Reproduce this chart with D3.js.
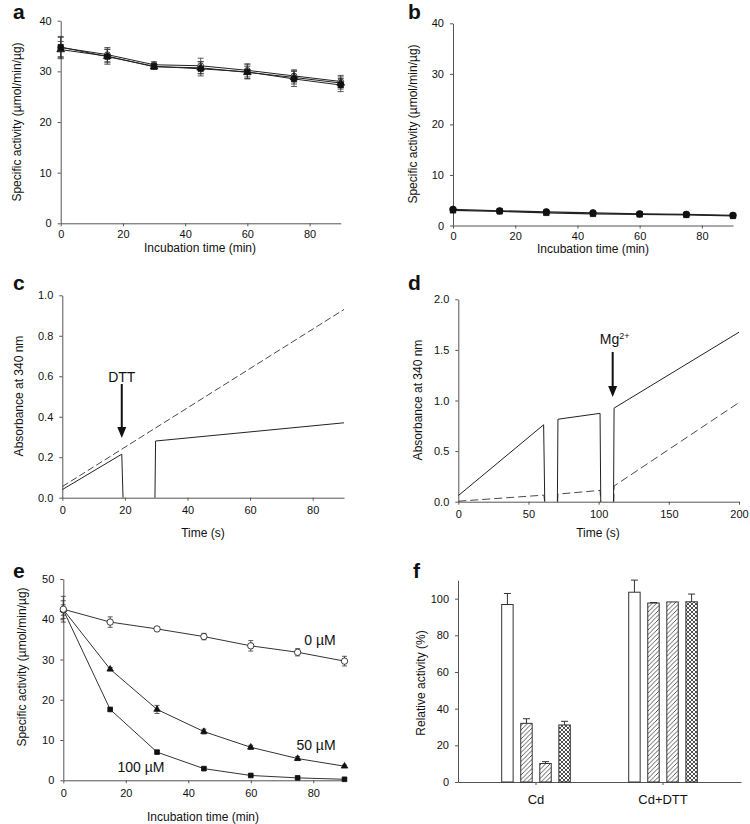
<!DOCTYPE html>
<html>
<head>
<meta charset="utf-8">
<script src="https://cdn.jsdelivr.net/npm/d3@7"></script>
<style>
  body { margin: 0; background: #fff; }
  text { font-family: "Liberation Sans", Arial, sans-serif; fill: #111; }
  .axis .domain, .axis line { stroke: #555; stroke-width: 1; }
  .axis text { font-size: 11px; fill: #111; }
</style>
</head>
<body>
<script>
// ---------- DATA ----------
const incubationTime = [0, 15, 30, 45, 60, 75, 90];

// panel a
const aSquare = [34.8, 32.9, 31.0, 30.5, 29.9, 28.5, 27.3];
const aSquareErr = [1.9, 1.5, 0.6, 1.4, 1.4, 1.5, 1.3];
const aTriangle = [34.3, 33.0, 30.9, 30.7, 29.8, 28.8, 27.7];
const aTriangleErr = [1.6, 1.3, 0.5, 1.2, 1.2, 1.3, 1.2];
const aCircle = [34.7, 33.3, 31.3, 31.1, 30.2, 29.1, 28.0];
const aCircleErr = [2.2, 1.4, 0.6, 1.5, 1.3, 1.2, 1.2];

// panel b
const bCircle = [3.2, 2.9, 2.7, 2.5, 2.3, 2.2, 2.0];
const bSquare = [3.0, 2.8, 2.5, 2.3, 2.2, 2.1, 1.9];
const bErr = [0.2, 0.2, 0.2, 0.2, 0.15, 0.15, 0.15];

// panel c (time s, absorbance); null = gap in trace
const cSolidTime = [0, 19, 19.4, null, 29.6, 29.8, 90];
const cSolidAbs = [0.04, 0.215, 0, null, 0, 0.28, 0.37];
const cDashTime = [0, 90];
const cDashAbs = [0.055, 0.93];
const cArrowTime = 19;

// panel d
const dSolidTime = [0, 60.8, 61.6, null, 70.6, 71, 101, 101.5, null, 110.6, 111, 200];
const dSolidAbs = [0.06, 0.76, 0, null, 0, 0.815, 0.873, 0, null, 0, 0.925, 1.675];
const dDashTime = [0, 61, 61.5, null, 70.8, 71, 101, 101.5, null, 110.8, 111, 200];
const dDashAbs = [0.005, 0.065, 0, null, 0, 0.075, 0.112, 0, null, 0, 0.155, 0.98];
const dArrowTime = 110;

// panel e
const e0uM = [42.5, 39.3, 37.6, 35.7, 33.4, 31.8, 29.6];
const e0uMErr = [3.2, 1.3, 0.4, 0.8, 1.3, 0.9, 1.2];
const e50uM = [42.4, 27.6, 17.6, 12.1, 8.2, 5.4, 3.5];
const e50uMErr = [2.2, 0.4, 1.0, 0.6, 0.5, 0.5, 0.3];
const e100uM = [42.3, 17.6, 7.0, 2.9, 1.2, 0.6, 0.25];
const e100uMErr = [1.3, 0.4, 0.3, 0.3, 0.3, 0.3, 0.2];
const eLabels = ["0 µM", "50 µM", "100 µM"];

// panel f
const fCategories = ["Cd", "Cd+DTT"];
const fCd = [96.8, 32.0, 10.1, 31.1];
const fCdErr = [6.0, 2.5, 1.0, 2.0];
const fCdDTT = [103.5, 97.6, 98.2, 98.3];
const fCdDTTErr = [6.6, 0.3, 0, 4.2];
const fFills = ["white", "hatch", "hatch", "cross"];

const tick90 = [0, 20, 40, 60, 80];

// ---------- DRAW ----------
const svg = d3.select("body").append("svg").attr("width", 750).attr("height", 824);

const defs = svg.append("defs");
const ph = defs.append("pattern").attr("id", "hatch").attr("patternUnits", "userSpaceOnUse")
  .attr("width", 4.5).attr("height", 4.5);
ph.append("rect").attr("width", 4.5).attr("height", 4.5).attr("fill", "#fff");
ph.append("path").attr("d", "M-1,1 l2,-2 M0,4.5 l4.5,-4.5 M3.5,5.5 l2,-2")
  .attr("stroke", "#333").attr("stroke-width", 0.8);
const pc = defs.append("pattern").attr("id", "cross").attr("patternUnits", "userSpaceOnUse")
  .attr("width", 4).attr("height", 4);
pc.append("rect").attr("width", 4).attr("height", 4).attr("fill", "#fff");
pc.append("path").attr("d", "M-1,1 l2,-2 M0,4 l4,-4 M3,5 l2,-2 M-1,3 l2,2 M0,0 l4,4 M3,-1 l2,2")
  .attr("stroke", "#222").attr("stroke-width", 0.8);

function axes(x, y, xt, yt, xf, yf, xpad) {
  svg.append("g").attr("class", "axis").attr("transform", `translate(0,${y.range()[0]})`)
    .call(d3.axisBottom(x).tickValues(xt).tickSize(3).tickPadding(xpad || 6).tickSizeOuter(0).tickFormat(xf));
  svg.append("g").attr("class", "axis").attr("transform", `translate(${x.range()[0]},0)`)
    .call(d3.axisLeft(y).tickValues(yt).tickSize(3).tickPadding(6).tickSizeOuter(0).tickFormat(yf));
}
function yTitle(txt, cx, cy) {
  svg.append("text").attr("transform", `translate(${cx},${cy}) rotate(-90)`)
    .attr("text-anchor", "middle").attr("dominant-baseline", "central")
    .style("font-size", "12px").text(txt);
}
function xTitle(txt, cx, by) {
  svg.append("text").attr("x", cx).attr("y", by).attr("text-anchor", "middle")
    .style("font-size", "12px").text(txt);
}
function panelLabel(t, x, y) {
  svg.append("text").attr("x", x).attr("y", y).style("font-size", "21px")
    .style("font-weight", "bold").text(t);
}
function series(x, y, xs, ys, opts) {
  const g = svg.append("g");
  const line = d3.line().defined((d, i) => d !== null && xs[i] !== null)
    .x((d, i) => x(xs[i])).y(d => y(d));
  g.append("path").datum(ys).attr("d", line).attr("fill", "none")
    .attr("stroke", opts.stroke || "#222").attr("stroke-width", opts.sw || 1)
    .attr("stroke-dasharray", opts.dash || null);
  if (opts.err) {
    const cw = opts.cap || 3;
    ys.forEach((v, i) => {
      const e = opts.err[i]; if (!e) return;
      const cx = x(xs[i]);
      g.append("path").attr("d",
        `M${cx},${y(v - e)}V${y(v + e)}M${cx - cw},${y(v + e)}h${2 * cw}M${cx - cw},${y(v - e)}h${2 * cw}`)
        .attr("stroke", "#333").attr("stroke-width", 0.8).attr("fill", "none");
    });
  }
  if (opts.symbol) {
    ys.forEach((v, i) => {
      g.append("path").attr("transform", `translate(${x(xs[i])},${y(v)})`)
        .attr("d", d3.symbol().type(opts.symbol).size(opts.size || 28)())
        .attr("fill", opts.fill || "#111").attr("stroke", "#111").attr("stroke-width", 0.8);
    });
  }
}

// ----- panel a -----
{
  const x = d3.scaleLinear().domain([0, 90]).range([60.7, 340.7]);
  const y = d3.scaleLinear().domain([0, 40]).range([223.3, 20.7]);
  axes(x, y, tick90, [0, 10, 20, 30, 40], d3.format("d"), d3.format("d"), 4);
  series(x, y, incubationTime, aCircle, { err: aCircleErr, symbol: d3.symbolCircle, fill: "#fff", size: 26 });
  series(x, y, incubationTime, aTriangle, { err: aTriangleErr, symbol: d3.symbolTriangle, size: 26 });
  series(x, y, incubationTime, aSquare, { err: aSquareErr, symbol: d3.symbolSquare, size: 28 });
  yTitle("Specific activity (µmol/min/µg)", 17, 122);
  xTitle("Incubation time (min)", 200, 252);
  panelLabel("a", 13, 19);
}
// ----- panel b -----
{
  const x = d3.scaleLinear().domain([0, 90]).range([453, 733]);
  const y = d3.scaleLinear().domain([0, 40]).range([225.5, 23.3]);
  axes(x, y, tick90, [0, 10, 20, 30, 40], d3.format("d"), d3.format("d"), 4);
  series(x, y, incubationTime, bSquare, { err: bErr, symbol: d3.symbolSquare, size: 30, sw: 1.3 });
  series(x, y, incubationTime, bCircle, { err: bErr, symbol: d3.symbolCircle, size: 34, sw: 1.3 });
  yTitle("Specific activity (µmol/min/µg)", 413, 124);
  xTitle("Incubation time (min)", 593, 253);
  panelLabel("b", 408, 19);
}
// ----- panel c -----
{
  const x = d3.scaleLinear().domain([0, 90]).range([62.3, 344]);
  const y = d3.scaleLinear().domain([0, 1]).range([497.7, 295.3]);
  axes(x, y, tick90, [0, 0.2, 0.4, 0.6, 0.8, 1.0], d3.format("d"), d3.format(".1f"));
  series(x, y, cDashTime, cDashAbs, { dash: "7,3", stroke: "#333", sw: 0.9 });
  series(x, y, cSolidTime, cSolidAbs, { stroke: "#222", sw: 1 });
  const ax = x(cArrowTime);
  svg.append("line").attr("x1", ax).attr("x2", ax).attr("y1", 384).attr("y2", 428)
    .attr("stroke", "#111").attr("stroke-width", 2);
  svg.append("path").attr("d", `M${ax - 4.5},427L${ax + 4.5},427L${ax},438Z`).attr("fill", "#111");
  svg.append("text").attr("x", ax).attr("y", 382).attr("text-anchor", "middle")
    .style("font-size", "14px").text("DTT");
  yTitle("Absorbance at 340 nm", 19, 396);
  xTitle("Time (s)", 203, 537);
  panelLabel("c", 13, 290);
}
// ----- panel d -----
{
  const x = d3.scaleLinear().domain([0, 200]).range([458.3, 739]);
  const y = d3.scaleLinear().domain([0, 2]).range([501.7, 299.3]);
  axes(x, y, [0, 50, 100, 150, 200], [0, 0.5, 1.0, 1.5, 2.0], d3.format("d"), d3.format(".1f"));
  series(x, y, dDashTime, dDashAbs, { dash: "8,4", stroke: "#333", sw: 0.9 });
  series(x, y, dSolidTime, dSolidAbs, { stroke: "#222", sw: 1 });
  const ax = x(dArrowTime);
  svg.append("line").attr("x1", ax).attr("x2", ax).attr("y1", 352).attr("y2", 387)
    .attr("stroke", "#111").attr("stroke-width", 2);
  svg.append("path").attr("d", `M${ax - 4.5},386L${ax + 4.5},386L${ax},397Z`).attr("fill", "#111");
  const t = svg.append("text").attr("x", ax + 2).attr("y", 344).attr("text-anchor", "middle")
    .style("font-size", "14px");
  t.append("tspan").text("Mg");
  t.append("tspan").attr("dy", -5).style("font-size", "9px").text("2+");
  yTitle("Absorbance at 340 nm", 418, 400);
  xTitle("Time (s)", 598, 537);
  panelLabel("d", 408, 290);
}
// ----- panel e -----
{
  const x = d3.scaleLinear().domain([0, 90]).range([63.3, 344.5]);
  const y = d3.scaleLinear().domain([0, 50]).range([780.3, 579]);
  axes(x, y, tick90, [0, 10, 20, 30, 40, 50], d3.format("d"), d3.format("d"));
  series(x, y, incubationTime, e100uM, { err: e100uMErr, symbol: d3.symbolSquare, size: 22, stroke: "#333", cap: 2.5 });
  series(x, y, incubationTime, e50uM, { err: e50uMErr, symbol: d3.symbolTriangle, size: 18, stroke: "#333", cap: 2.5 });
  series(x, y, incubationTime, e0uM, { err: e0uMErr, symbol: d3.symbolCircle, fill: "#fff", size: 32, stroke: "#333", cap: 2.5 });
  const lp = [[320, 645], [316, 750], [141, 772]];
  eLabels.forEach((l, i) => svg.append("text").attr("x", lp[i][0]).attr("y", lp[i][1])
    .attr("text-anchor", "middle").style("font-size", "14px").text(l));
  yTitle("Specific activity (µmol/min/µg)", 22, 667);
  xTitle("Incubation time (min)", 203, 821);
  panelLabel("e", 13, 578);
}
// ----- panel f -----
{
  const x = d3.scaleBand().domain(fCategories).range([458, 741]).paddingInner(0.2).paddingOuter(0.214);
  const xs = d3.scaleBand().domain([0, 1, 2, 3]).range([-34.3, 34.3]).paddingInner(0.4).paddingOuter(0);
  const y = d3.scaleLinear().domain([0, 110]).range([782, 580.3]);
  const gx = svg.append("g").attr("class", "axis").attr("transform", `translate(0,782)`)
    .call(d3.axisBottom(x).tickSize(3).tickSizeOuter(0).tickPadding(10));
  gx.selectAll("text").style("font-size", "13px");
  svg.append("g").attr("class", "axis").attr("transform", `translate(458,0)`)
    .call(d3.axisLeft(y).tickValues([0, 20, 40, 60, 80, 100]).tickSize(3).tickPadding(6).tickSizeOuter(0));
  const groups = [fCd, fCdDTT], errs = [fCdErr, fCdDTTErr];
  groups.forEach((vals, gi) => {
    const c = x(fCategories[gi]) + x.bandwidth() / 2;
    vals.forEach((v, i) => {
      const bx = c + xs(i), bw = xs.bandwidth();
      const e = errs[gi][i];
      if (e > 0) {
        const mx = bx + bw / 2;
        svg.append("path").attr("d", `M${mx},${y(v)}V${y(v + e)}M${mx - 3.5},${y(v + e)}h7`)
          .attr("stroke", "#333").attr("stroke-width", 1).attr("fill", "none");
      }
      svg.append("rect").attr("x", bx).attr("y", y(v)).attr("width", bw).attr("height", y(0) - y(v))
        .attr("fill", fFills[i] === "white" ? "#fff" : `url(#${fFills[i]})`)
        .attr("stroke", "#333").attr("stroke-width", 1);
    });
  });
  yTitle("Relative activity (%)", 421, 683);
  panelLabel("f", 413, 578);
}
</script>
</body>
</html>
